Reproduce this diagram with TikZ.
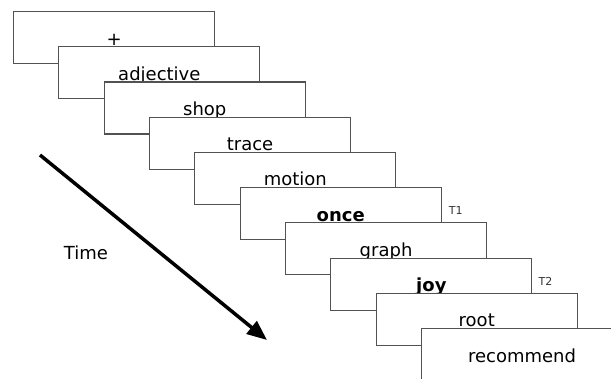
\documentclass[tikz,border=0pt]{standalone}
\usepackage{fontspec}
\setmainfont{DejaVu Sans}
\usetikzlibrary{arrows.meta}
\begin{document}
\begin{tikzpicture}[x=1pt,y=-1pt,
  stim/.style={draw=black!68, line width=1.1pt, fill=white,
    minimum width=201pt, minimum height=52pt, anchor=north west,
    text height=15pt, text depth=0pt, inner sep=0pt,
    font=\fontsize{18}{21}\selectfont},
  tlabel/.style={font=\fontsize{11}{13}\selectfont, inner sep=0pt, text=black!80},
  timelabel/.style={font=\fontsize{18}{21}\selectfont, inner sep=0pt},
  timearrow/.style={line width=3.5pt, -{Triangle[length=20pt,width=16pt]}}]
\useasboundingbox (0,0) rectangle (611,378);
\begin{scope}
\clip (0,0) rectangle (611,378);
\node[stim] (b0) at (13,11) {+};
\node[stim] (b1) at (58.3,46.2) {adjective};
\node[stim] (b2) at (103.7,81.4) {shop};
\node[stim] (b3) at (149,116.7) {trace};
\node[stim] (b4) at (194.3,151.9) {motion};
\node[stim] (b5) at (239.7,187.1) {\textbf{once}};
\node[stim] (b6) at (285,222.3) {graph};
\node[stim] (b7) at (330.3,257.5) {\textbf{joy}};
\node[stim] (b8) at (375.7,292.8) {root};
\node[stim] (b9) at (421,328) {recommend};
\node[tlabel] (t1) at ([xshift=14pt,yshift=-23pt]b5.north east) {T1};
\node[tlabel] (t2) at ([xshift=13pt,yshift=-24pt]b7.north east) {T2};
\node[timelabel] (time) at (86,253) {Time};
\coordinate (as) at (40,155);
\coordinate (ae) at (267,340);
\draw[timearrow] (as) -- (ae);
\end{scope}
\end{tikzpicture}
\end{document}
